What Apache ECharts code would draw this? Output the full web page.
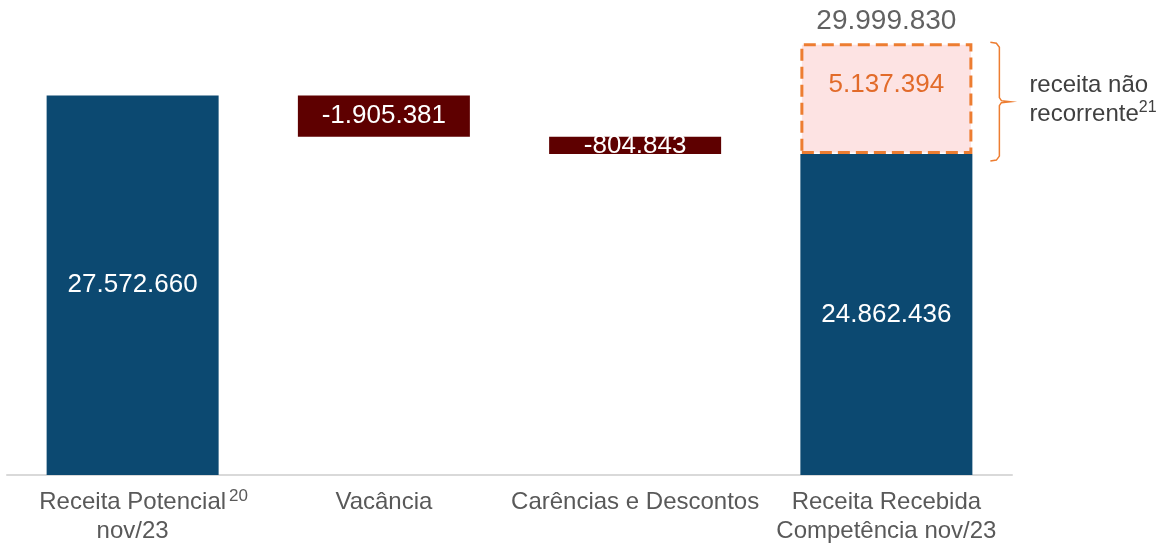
<!DOCTYPE html>
<html>
<head>
    <meta charset="utf-8" />
    <title>Receita nov/23</title>
    <script src="https://cdn.jsdelivr.net/npm/echarts@6/dist/echarts.min.js"></script>
</head>
<body style="margin:0">
    <div id="main" style="width: 1169px;height:546px;"></div>
    <script type="text/javascript">
        // dados (R$)
        var categories = ['Receita Potencial\nnov/23', 'Vacância', 'Carências e Descontos', 'Receita Recebida\nCompetência nov/23'];
        var footnotes = ['20', '', '', ''];
        var revenue = [27572660, null, null, 24862436];       // barras azuis
        var deductions = [null, -1905381, -804843, null];     // vacância, carências
        var nonRecurring = [null, null, null, 5137394];      // receita não recorrente
        var totals = [null, null, null, 29999830];           // total recebido

        var BLUE = '#0c4971', RED = '#5e0000', ORANGE = '#ed7d31';
        var FONT = 'Liberation Sans, Arial, sans-serif';

        function fmt(v) {
            var s = String(Math.abs(v)).replace(/\B(?=(\d{3})+(?!\d))/g, '.');
            return (v < 0 ? '-' : '') + s;
        }

        // base invisivel do waterfall
        var running = revenue[0];
        var helper = [], drops = [];
        for (var i = 0; i < categories.length; i++) {
            if (deductions[i] != null) {
                running += deductions[i];
                helper.push(running);
                drops.push(-deductions[i]);
            } else {
                helper.push('-');
                drops.push('-');
            }
        }

        function orDash(arr) {
            return arr.map(function (v) { return v == null ? '-' : v; });
        }

        var myChart = echarts.init(document.getElementById('main'));
        var option = {
            animation: false,
            textStyle: { fontFamily: FONT },
            grid: { left: 7, right: 157, top: 0, bottom: 71 },
            xAxis: {
                type: 'category',
                data: categories,
                axisLine: { lineStyle: { color: '#d9d9d9', width: 2 } },
                axisTick: { show: false },
                axisLabel: {
                    interval: 0,
                    margin: 13,
                    fontSize: 24,
                    lineHeight: 29,
                    color: '#595959',
                    formatter: function (val, idx) {
                        var lines = val.split('\n');
                        if (footnotes[idx]) {
                            lines[0] = '{pad| }' + lines[0] + '{sup|' + footnotes[idx] + '}';
                        }
                        return lines.join('\n');
                    },
                    rich: {
                        sup: { fontSize: 17, color: '#595959', verticalAlign: 'top', lineHeight: 29, padding: [0, 0, 9, 3] },
                        pad: { width: 22, fontSize: 17 }
                    }
                }
            },
            yAxis: {
                type: 'value',
                min: 10000000,
                max: 32000000,
                show: false,
                splitLine: { show: false }
            },
            series: [
                {
                    name: 'base',
                    type: 'bar',
                    stack: 'w',
                    barWidth: 172,
                    itemStyle: { color: 'transparent' },
                    emphasis: { disabled: true },
                    data: helper
                },
                {
                    name: 'receita',
                    type: 'bar',
                    stack: 'w',
                    barWidth: 172,
                    itemStyle: { color: BLUE },
                    label: {
                        show: true,
                        position: 'inside',
                        color: '#fff',
                        fontSize: 26,
                        formatter: function (p) { return fmt(p.value); }
                    },
                    data: orDash(revenue)
                },
                {
                    name: 'deducoes',
                    type: 'bar',
                    stack: 'w',
                    barWidth: 172,
                    itemStyle: { color: RED },
                    label: {
                        show: true,
                        position: 'inside',
                        color: '#fff',
                        fontSize: 26,
                        formatter: function (p) { return fmt(-p.value); }
                    },
                    data: drops
                },
                {
                    name: 'nao recorrente',
                    type: 'bar',
                    stack: 'w',
                    barWidth: 172,
                    itemStyle: {
                        color: '#fde3e3',
                        borderColor: ORANGE,
                        borderWidth: 3,
                        borderType: [12, 6]
                    },
                    label: {
                        show: true,
                        position: 'inside',
                        offset: [0, -14],
                        color: '#e26b2a',
                        fontSize: 26,
                        formatter: function (p) { return fmt(p.value); }
                    },
                    data: orDash(nonRecurring)
                },
                {
                    name: 'total',
                    type: 'scatter',
                    symbolSize: 1,
                    itemStyle: { color: 'transparent' },
                    label: {
                        show: true,
                        position: 'top',
                        distance: 7,
                        color: '#3a3a3a',
                        fontSize: 28,
                        formatter: function (p) { return fmt(p.value); }
                    },
                    data: orDash(totals)
                }
            ]
        };
        myChart.setOption(option);

        // chave "}" e texto da receita nao recorrente
        var last = categories.length - 1;
        var xc = myChart.convertToPixel({ xAxisIndex: 0 }, last);
        var yTop = myChart.convertToPixel({ yAxisIndex: 0 }, totals[last]);
        var yBot = myChart.convertToPixel({ yAxisIndex: 0 }, revenue[last]);
        var bx = xc + 86 + 18;
        var t = yTop - 1, b = yBot + 7, m = (t + b) / 2;
        myChart.setOption({
            graphic: [
                {
                    type: 'polyline',
                    shape: {
                        points: [[bx, t], [bx + 6, t + 1], [bx + 9, t + 5], [bx + 9, m - 4],
                            [bx + 11, m - 1], [bx + 20, m], [bx + 11, m + 1], [bx + 9, m + 4],
                            [bx + 9, b - 5], [bx + 6, b - 1], [bx, b]]
                    },
                    style: { stroke: ORANGE, lineWidth: 1.5, fill: null }
                },
                {
                    type: 'text',
                    x: bx + 39,
                    y: m - 2,
                    style: {
                        text: 'receita não\nrecorrente{sup|21}',
                        fontSize: 24,
                        lineHeight: 29,
                        fill: '#404040',
                        fontFamily: FONT,
                        verticalAlign: 'middle',
                        rich: {
                            sup: { fontSize: 16, fill: '#404040', verticalAlign: 'top', lineHeight: 29, padding: [0, 0, 8, 0] }
                        }
                    }
                }
            ]
        });
    </script>
</body>
</html>
